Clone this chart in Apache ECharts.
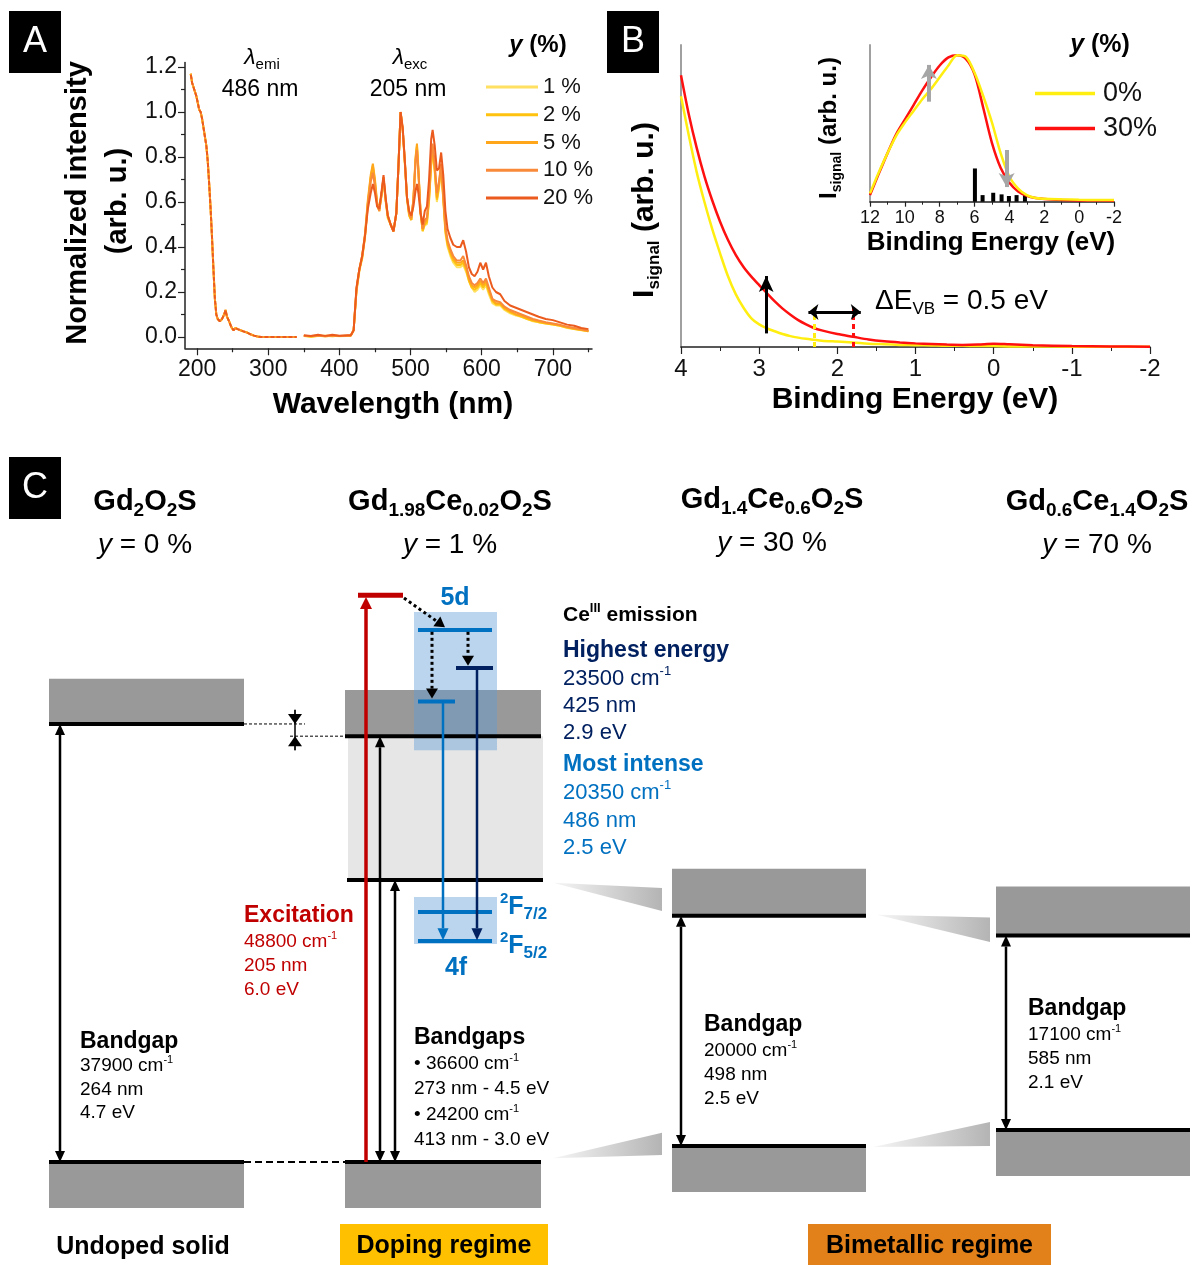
<!DOCTYPE html>
<html>
<head>
<meta charset="utf-8">
<script src="https://cdn.jsdelivr.net/npm/echarts@6/dist/echarts.min.js"></script>
<style>
  html, body { margin: 0; padding: 0; background: #fff; }
  #chart { width: 1194px; height: 1265px; }
</style>
</head>
<body>
<div id="chart"></div>
<script>
const FONT = "'Liberation Sans', Arial, Helvetica, sans-serif";

// ---------- Panel A: excitation (λemi 486 nm) and emission (λexc 205 nm) ----------
const EXC_WL = [191,193,195,197,199,201,203,205,207,209,211,213,215,217,219,221,223,225,227,229,
  232,235,238,240,242,245,248,251,254,257,261,265,270,275,280,285,290,300,310,320,330,340];
const EXC_INT = [1.17,1.13,1.11,1.09,1.07,1.04,1.01,1.0,0.97,0.93,0.89,0.85,0.78,0.68,0.57,0.44,0.30,0.17,0.10,0.08,
  0.07,0.08,0.10,0.12,0.09,0.07,0.045,0.03,0.04,0.035,0.03,0.025,0.02,0.012,0.006,0.002,0,0,0,0,0,0];

const EMI_WL = [350,360,370,380,390,400,410,416,420,424,428,432,436,440,444,447,450,453,456,459,462,465,468,472,476,480,
  483,486,489,492,495,498,501,504,507,509,511,514,517,520,523,526,529,531,534,537,540,543,546,549,552,556,560,565,570,
  574,578,582,586,590,594,598,602,606,610,615,620,626,632,640,648,656,664,672,680,690,700,710,720,730,740,750];
const EMI_1 = [0.004,0.0,0.006,0.002,0.005,0.003,0.004,0.006, 0.03,0.20,0.29,0.35,0.44,0.59,0.70,0.75,
  0.68,0.59,0.56,0.62,0.69,0.60,0.53,0.50,0.47,0.55, 0.76,1.0,0.92,0.77,0.61,0.54,0.52,0.60,0.78,0.84,
  0.74,0.55,0.47,0.50,0.50,0.60,0.76,0.82,0.73,0.60, 0.66,0.75,0.61,0.46,0.40,0.36,0.33,0.31,0.31,
  0.32,0.29,0.25,0.22,0.20,0.21,0.23,0.21,0.23,0.19, 0.15,0.14,0.14,0.12,0.105,0.095,0.09,0.08,0.07,0.065,
  0.06,0.055,0.05,0.04,0.035,0.03,0.025];
const EMI_2 = [0.005,0.002,0.004,0.006,0.003,0.005,0.004,0.007, 0.03,0.21,0.30,0.35,0.45,0.60,0.71,0.76,
  0.69,0.59,0.56,0.63,0.70,0.61,0.53,0.50,0.47,0.55, 0.76,1.0,0.92,0.77,0.62,0.54,0.52,0.61,0.79,0.85,
  0.74,0.55,0.47,0.50,0.51,0.61,0.77,0.83,0.74,0.61, 0.67,0.76,0.61,0.47,0.41,0.37,0.34,0.32,0.32,
  0.33,0.30,0.25,0.22,0.21,0.22,0.24,0.22,0.24,0.20, 0.16,0.145,0.145,0.125,0.11,0.10,0.09,0.08,0.072,0.066,
  0.06,0.056,0.05,0.042,0.036,0.031,0.026];
const EMI_5 = [0.006,0.003,0.005,0.004,0.007,0.004,0.006,0.006, 0.03,0.21,0.30,0.36,0.46,0.61,0.72,0.77,
  0.70,0.60,0.57,0.63,0.71,0.61,0.54,0.50,0.47,0.55, 0.76,1.0,0.92,0.78,0.62,0.55,0.52,0.61,0.80,0.86,
  0.75,0.56,0.48,0.51,0.52,0.62,0.78,0.84,0.75,0.62, 0.68,0.77,0.62,0.48,0.42,0.38,0.35,0.33,0.33,
  0.34,0.31,0.26,0.23,0.22,0.23,0.25,0.23,0.25,0.21, 0.165,0.15,0.15,0.13,0.115,0.10,0.095,0.085,0.075,0.07,
  0.063,0.058,0.052,0.044,0.038,0.032,0.027];
const EMI_10 = [0.005,0.004,0.007,0.003,0.006,0.005,0.005,0.007, 0.03,0.21,0.30,0.36,0.45,0.59,0.69,0.73,
  0.67,0.59,0.56,0.63,0.71,0.61,0.54,0.50,0.47,0.55, 0.76,1.0,0.92,0.78,0.62,0.55,0.53,0.61,0.78,0.83,
  0.73,0.56,0.48,0.52,0.53,0.64,0.80,0.86,0.77,0.64, 0.69,0.77,0.63,0.49,0.43,0.39,0.36,0.34,0.34,
  0.36,0.32,0.27,0.24,0.23,0.24,0.26,0.24,0.26,0.22, 0.17,0.16,0.155,0.135,0.12,0.11,0.10,0.09,0.08,0.073,
  0.066,0.06,0.054,0.046,0.04,0.034,0.028];
const EMI_20 = [0.008,0.004,0.01,0.005,0.01,0.006,0.008,0.008, 0.03,0.22,0.30,0.36,0.45,0.57,0.64,0.68,
  0.64,0.58,0.57,0.64,0.72,0.62,0.54,0.50,0.47,0.55, 0.76,1.0,0.93,0.78,0.62,0.56,0.54,0.58,0.65,0.68,
  0.64,0.55,0.50,0.56,0.58,0.70,0.88,0.92,0.85,0.74, 0.75,0.82,0.72,0.56,0.48,0.44,0.41,0.40,0.40,
  0.43,0.38,0.31,0.28,0.27,0.29,0.33,0.30,0.33,0.27, 0.22,0.20,0.19,0.16,0.14,0.13,0.12,0.11,0.10,0.09,
  0.08,0.075,0.065,0.055,0.05,0.04,0.035];
const CONC_LABELS = ['1 %', '2 %', '5 %', '10 %', '20 %'];
const A_X_TICKS = [200, 300, 400, 500, 600, 700];
const A_X_MINOR = [250, 350, 450, 550, 650, 750];
const A_Y_TICKS = [0, 0.2, 0.4, 0.6, 0.8, 1.0, 1.2];
const A_Y_MINOR = [0.1, 0.3, 0.5, 0.7, 0.9, 1.1];

// ---------- Panel B: valence band XPS ----------
const VB_BE = [4.0,3.9,3.8,3.7,3.6,3.5,3.4,3.3,3.2,3.1,3.0,2.9,2.8,2.7,2.6,2.5,2.4,2.3,2.2,2.0,1.8,1.6,1.4,1.2,1.0,
  0.8,0.6,0.4,0.2,0.0,-0.2,-0.5,-1.0,-1.5,-2.0];
const VB_0 = [0.83,0.70,0.58,0.48,0.39,0.31,0.235,0.175,0.13,0.095,0.075,0.062,0.052,0.043,0.036,0.031,0.027,0.024,0.021,
  0.018,0.015,0.011,0.009,0.007,0.006,0.005,0.004,0.004,0.003,0.003,0.002,0.002,0.001,0.001,0.001];
const VB_30 = [0.90,0.77,0.66,0.565,0.485,0.415,0.355,0.305,0.265,0.233,0.205,0.178,0.151,0.127,0.107,0.089,0.075,0.063,0.055,
  0.043,0.034,0.025,0.019,0.015,0.012,0.010,0.008,0.007,0.008,0.011,0.009,0.006,0.003,0.002,0.001];
const INSET_BE = [12,11.5,11,10.5,10,9.5,9,8.5,8,7.5,7,6.5,6,5.5,5,4.5,4,3.5,3,2.5,2,1,0,-1,-2];
const INSET_0 = [0.057,0.20,0.33,0.45,0.54,0.62,0.70,0.77,0.85,0.93,1.0,0.99,0.88,0.72,0.54,0.33,0.17,0.09,0.045,
  0.025,0.02,0.016,0.013,0.012,0.011];
const INSET_30 = [0.045,0.19,0.33,0.46,0.56,0.66,0.76,0.85,0.93,0.985,1.0,0.975,0.87,0.64,0.40,0.23,0.13,0.07,0.04,
  0.025,0.018,0.012,0.009,0.008,0.007];
const DOS_BE = [5.98, 5.54, 4.93, 4.45, 4.03, 3.59, 3.11];
const DOS_H = [0.227, 0.045, 0.061, 0.05, 0.039, 0.045, 0.052];
const B_LEGEND = ['0%', '30%'];

// ---------- Panel C: energy diagram (x: column position, y: energy in eV above Gd2O2S VB) ----------
const C_BANDS = [[49,244,4.66,5.14],[49,244,-0.49,0],[345,541,4.53,5.02],[345,541,-0.49,0],
  [672,866,2.62,3.12],[672,866,-0.32,0.17],[996,1190,2.41,2.93],[996,1190,-0.15,0.34]];
const C_DEFECT_BAND = [[348,543,3.0,4.53]];
const C_CE_BOXES = [[414,497,4.38,5.85],[414,497,2.32,2.82]];
const C_EDGES = [[49,244,4.66],[49,244,0],[345,541,4.53],[347,543,3.0],[345,541,0],
  [672,866,2.62],[672,866,0.17],[996,1190,2.41],[996,1190,0.34]];
const C_LEVELS_5D4F = [[418,492,5.66],[418,455,4.90],[418,492,2.66],[418,492,2.35]];
const C_LEVEL_NAVY = [[456,493,5.255]];
const C_LEVEL_EXC = [[358,403,6.03]];
const C_GAP_ARROWS = [[60,0,60,4.66,2],[380,0,380,4.53,2],[395,0,395,3.0,2],[681,0.17,681,2.62,2],[1006,0.34,1006,2.41,2]];
const C_EXC_ARROW = [[366,0,366,6.01,1]];
const C_EMI_BLUE = [[443,4.90,443,2.36,1]];
const C_EMI_NAVY = [[477,5.255,477,2.36,1]];
const C_RELAX = [[404,6.0,445,5.69,1],[432,5.64,432,4.93,1],[468,5.64,468,5.28,1]];
const C_OFFSET_HEADS = [[295,4.81,295,4.66,1],[295,4.38,295,4.53,1]];
const C_OFFSET_STEM = [[295,4.81,295,4.38,0]];
const C_GUIDE_VB = [[244,345,0]];
const C_GUIDE_CB = [[244,305,4.66],[290,345,4.53]];
const C_WEDGES = [[553,2.97,662,2.915,2.67],[553,0.04,662,0.31,0.075],[877,2.63,990,2.60,2.34],[873,0.16,990,0.425,0.17]];

// ---------- helpers ----------
const pairs = (xs, ys) => xs.map((x, i) => [x, ys[i]]);
const A_COLORS = ['#FFE060', '#FFC20E', '#FFA61A', '#F98A3A', '#EC5B1E'];
const EMI_ALL = [EMI_1, EMI_2, EMI_5, EMI_10, EMI_20];
const YELLOW = '#FFEE10', RED = '#FF1010';
const BLUE = '#0070C0', NAVY = '#002060', DARKRED = '#C00000';

function rectItem(fill) {
  return (params, api) => {
    const a = api.coord([api.value(0), api.value(3)]);
    const b = api.coord([api.value(1), api.value(2)]);
    return { type: 'rect', shape: { x: a[0], y: a[1], width: b[0] - a[0], height: b[1] - a[1] }, style: { fill } };
  };
}
function hlineItem(stroke, lineWidth, lineDash) {
  return (params, api) => {
    const a = api.coord([api.value(0), api.value(2)]);
    const b = api.coord([api.value(1), api.value(2)]);
    return { type: 'line', shape: { x1: a[0], y1: a[1], x2: b[0], y2: a[1] }, style: { stroke, lineWidth, lineDash: lineDash || null } };
  };
}
function arrowItem(color, lineWidth, lineDash, headLen, headHalf) {
  return (params, api) => {
    const p0 = api.coord([api.value(0), api.value(1)]);
    const p1 = api.coord([api.value(2), api.value(3)]);
    const heads = api.value(4);
    const dx = p1[0] - p0[0], dy = p1[1] - p0[1];
    const L = Math.hypot(dx, dy) || 1;
    const ux = dx / L, uy = dy / L, nx = -uy, ny = ux;
    const s = heads === 2 ? [p0[0] + ux * headLen, p0[1] + uy * headLen] : p0;
    const e = heads >= 1 ? [p1[0] - ux * headLen, p1[1] - uy * headLen] : p1;
    const head = (tip, dx2, dy2) => {
      const bx = tip[0] - dx2 * headLen, by = tip[1] - dy2 * headLen;
      return { type: 'polygon', shape: { points: [tip, [bx + nx * headHalf, by + ny * headHalf], [bx - nx * headHalf, by - ny * headHalf]] }, style: { fill: color } };
    };
    const children = [{ type: 'line', shape: { x1: s[0], y1: s[1], x2: e[0], y2: e[1] }, style: { stroke: color, lineWidth, lineDash: lineDash || null } }];
    if (heads >= 1) children.push(head(p1, ux, uy));
    if (heads === 2) children.push(head(p0, -ux, -uy));
    return { type: 'group', children };
  };
}
function wedgeItem(params, api) {
  const t = api.coord([api.value(0), api.value(1)]);
  const a = api.coord([api.value(2), api.value(3)]);
  const b = api.coord([api.value(2), api.value(4)]);
  return {
    type: 'polygon', shape: { points: [t, a, b] },
    style: { fill: new echarts.graphic.LinearGradient(0, 0, 1, 0, [{ offset: 0, color: '#F6F6F6' }, { offset: 1, color: '#B4B4B4' }]) }
  };
}
function cSeries(data, renderItem) {
  return { type: 'custom', xAxisIndex: 4, yAxisIndex: 4, data, renderItem, silent: true, animation: false };
}

function T(x, y, text, o) {
  o = o || {};
  return {
    type: 'text', x, y, rotation: o.rot || 0, z: 100,
    style: {
      text, fontFamily: FONT, fontSize: o.size || 19, fontWeight: o.bold ? 'bold' : 'normal',
      fontStyle: o.italic ? 'italic' : 'normal', fill: o.color || '#000',
      align: o.align || 'left', verticalAlign: 'middle', lineHeight: o.lh || Math.round((o.size || 19) * 1.25),
      rich: o.rich
    }
  };
}
const tok = (size, extra) => Object.assign({ fontSize: size, fontFamily: FONT }, extra || {});
const subTok = (size, extra) => tok(size, Object.assign({ lineHeight: size, verticalAlign: 'bottom' }, extra || {}));
const supTok = (size, extra) => tok(size, Object.assign({ lineHeight: size, verticalAlign: 'top' }, extra || {}));

const RICH_CHEM = { b: tok(29, { fontWeight: 'bold', lineHeight: 36 }), s: subTok(19, { fontWeight: 'bold' }) };
const RICH_Y = { i: tok(28, { fontStyle: 'italic', lineHeight: 34 }) };
function cm(size, color, bold) { return { u: supTok(Math.round(size * 0.6), { fill: color, fontWeight: bold ? 'bold' : 'normal' }) }; }

function letterBox(x, y, ch) {
  return [
    { type: 'rect', shape: { x, y, width: 52, height: 62 }, style: { fill: '#000' }, z: 90 },
    T(x + 26, y + 31, ch, { size: 36, color: '#fff', align: 'center' })
  ];
}
function tag(x, y, w, h, fill, text) {
  const els = [];
  if (fill) els.push({ type: 'rect', shape: { x, y, width: w, height: h }, style: { fill }, z: 90 });
  els.push(T(x + w / 2, y + h / 2 + 2, text, { size: 25, bold: true, align: 'center' }));
  return els;
}

const graphicEls = [].concat(
  letterBox(9, 11, 'A'), letterBox(607, 11, 'B'), letterBox(9, 457, 'C'),
  // Panel A texts
  [
    T(78, 203, 'Normalized intensity', { size: 29, bold: true, align: 'center', rot: Math.PI / 2 }),
    T(118, 201, '(arb. u.)', { size: 29, bold: true, align: 'center', rot: Math.PI / 2 }),
    T(393, 405, 'Wavelength (nm)', { size: 30, bold: true, align: 'center' }),
    T(262, 58, '{l|λ}{s|emi}', { size: 23, align: 'center', lh: 28, rich: { l: tok(23, { fontStyle: 'italic', lineHeight: 28 }), s: subTok(15) } }),
    T(260, 90, '486 nm', { size: 23, align: 'center' }),
    T(410, 58, '{l|λ}{s|exc}', { size: 23, align: 'center', lh: 28, rich: { l: tok(23, { fontStyle: 'italic', lineHeight: 28 }), s: subTok(15) } }),
    T(408, 90, '205 nm', { size: 23, align: 'center' }),
    T(538, 45, '{i|y} (%)', { size: 24, bold: true, align: 'center', rich: { i: tok(24, { fontStyle: 'italic', fontWeight: 'bold' }) } })
  ],
  // Panel B texts
  [
    T(645, 210, '{I|I}{s|signal}{I| (arb. u.)}', { size: 30, bold: true, align: 'center', lh: 36, rot: Math.PI / 2,
      rich: { I: tok(30, { fontWeight: 'bold', lineHeight: 36 }), s: subTok(17, { fontWeight: 'bold' }) } }),
    T(915, 400, 'Binding Energy (eV)', { size: 30, bold: true, align: 'center' }),
    T(875, 301, '{n|ΔE}{s|VB}{n| = 0.5 eV}', { size: 28, lh: 34, rich: { n: tok(28, { lineHeight: 34 }), s: subTok(17) } }),
    T(829, 128, '{I|I}{s|signal}{I| (arb. u.)}', { size: 24, bold: true, align: 'center', lh: 30, rot: Math.PI / 2,
      rich: { I: tok(24, { fontWeight: 'bold', lineHeight: 30 }), s: subTok(14, { fontWeight: 'bold' }) } }),
    T(991, 243, 'Binding Energy (eV)', { size: 26, bold: true, align: 'center' }),
    T(1100, 45, '{i|y} (%)', { size: 25, bold: true, align: 'center', rich: { i: tok(25, { fontStyle: 'italic', fontWeight: 'bold' }) } })
  ],
  // Panel C titles
  [
    T(145, 502, '{b|Gd}{s|2}{b|O}{s|2}{b|S}', { size: 29, bold: true, align: 'center', lh: 36, rich: RICH_CHEM }),
    T(450, 502, '{b|Gd}{s|1.98}{b|Ce}{s|0.02}{b|O}{s|2}{b|S}', { size: 29, bold: true, align: 'center', lh: 36, rich: RICH_CHEM }),
    T(772, 500, '{b|Gd}{s|1.4}{b|Ce}{s|0.6}{b|O}{s|2}{b|S}', { size: 29, bold: true, align: 'center', lh: 36, rich: RICH_CHEM }),
    T(1097, 502, '{b|Gd}{s|0.6}{b|Ce}{s|1.4}{b|O}{s|2}{b|S}', { size: 29, bold: true, align: 'center', lh: 36, rich: RICH_CHEM }),
    T(145, 545, '{i|y} = 0 %', { size: 28, align: 'center', lh: 34, rich: RICH_Y }),
    T(450, 545, '{i|y} = 1 %', { size: 28, align: 'center', lh: 34, rich: RICH_Y }),
    T(772, 543, '{i|y} = 30 %', { size: 28, align: 'center', lh: 34, rich: RICH_Y }),
    T(1097, 545, '{i|y} = 70 %', { size: 28, align: 'center', lh: 34, rich: RICH_Y })
  ],
  // Panel C annotations
  [
    T(455, 598, '5d', { size: 25, bold: true, color: BLUE, align: 'center' }),
    T(456, 968, '4f', { size: 25, bold: true, color: BLUE, align: 'center' }),
    T(500, 907, '{p|2}{F|F}{b|7/2}', { size: 25, bold: true, color: BLUE, lh: 32,
      rich: { p: supTok(15, { fontWeight: 'bold', fill: BLUE }), F: tok(25, { fontWeight: 'bold', fill: BLUE, lineHeight: 32 }), b: subTok(17, { fontWeight: 'bold', fill: BLUE }) } }),
    T(500, 946, '{p|2}{F|F}{b|5/2}', { size: 25, bold: true, color: BLUE, lh: 32,
      rich: { p: supTok(15, { fontWeight: 'bold', fill: BLUE }), F: tok(25, { fontWeight: 'bold', fill: BLUE, lineHeight: 32 }), b: subTok(17, { fontWeight: 'bold', fill: BLUE }) } }),
    T(563, 615, 'Ce{u|III} emission', { size: 21, bold: true, rich: cm(21, '#000', true) }),
    T(563, 651, 'Highest energy', { size: 23, bold: true, color: NAVY }),
    T(563, 679, '23500 cm{u|-1}', { size: 22, color: NAVY, rich: cm(22, NAVY) }),
    T(563, 706, '425 nm', { size: 22, color: NAVY }),
    T(563, 733, '2.9 eV', { size: 22, color: NAVY }),
    T(563, 765, 'Most intense', { size: 23, bold: true, color: BLUE }),
    T(563, 793, '20350 cm{u|-1}', { size: 22, color: BLUE, rich: cm(22, BLUE) }),
    T(563, 821, '486 nm', { size: 22, color: BLUE }),
    T(563, 848, '2.5 eV', { size: 22, color: BLUE }),
    T(244, 916, 'Excitation', { size: 23, bold: true, color: DARKRED }),
    T(244, 942, '48800 cm{u|-1}', { size: 19, color: DARKRED, rich: cm(19, DARKRED) }),
    T(244, 966, '205 nm', { size: 19, color: DARKRED }),
    T(244, 990, '6.0 eV', { size: 19, color: DARKRED }),
    T(80, 1042, 'Bandgap', { size: 23, bold: true }),
    T(80, 1066, '37900 cm{u|-1}', { size: 19, rich: cm(19, '#000') }),
    T(80, 1090, '264 nm', { size: 19 }),
    T(80, 1113, '4.7 eV', { size: 19 }),
    T(414, 1038, 'Bandgaps', { size: 23, bold: true }),
    T(414, 1064, '• 36600 cm{u|-1}', { size: 19, rich: cm(19, '#000') }),
    T(414, 1089, '273 nm - 4.5 eV', { size: 19 }),
    T(414, 1115, '• 24200 cm{u|-1}', { size: 19, rich: cm(19, '#000') }),
    T(414, 1140, '413 nm - 3.0 eV', { size: 19 }),
    T(704, 1025, 'Bandgap', { size: 23, bold: true }),
    T(704, 1051, '20000 cm{u|-1}', { size: 19, rich: cm(19, '#000') }),
    T(704, 1075, '498 nm', { size: 19 }),
    T(704, 1099, '2.5 eV', { size: 19 }),
    T(1028, 1009, 'Bandgap', { size: 23, bold: true }),
    T(1028, 1035, '17100 cm{u|-1}', { size: 19, rich: cm(19, '#000') }),
    T(1028, 1059, '585 nm', { size: 19 }),
    T(1028, 1083, '2.1 eV', { size: 19 })
  ],
  tag(40, 1225, 206, 40, null, 'Undoped solid'),
  tag(340, 1224, 208, 41, '#FFC000', 'Doping regime'),
  tag(808, 1224, 243, 41, '#E2801A', 'Bimetallic regime')
);

const axisBase = {
  type: 'value', splitLine: { show: false },
  axisLine: { onZero: false, lineStyle: { color: '#222', width: 1.5 } },
  axisTick: { lineStyle: { color: '#222', width: 1.2 } },
  axisLabel: { color: '#111', fontFamily: FONT }
};
const ax = (o) => echarts.util.merge(echarts.util.clone(axisBase), o, true);

const series = [];
// Panel A
CONC_LABELS.forEach((n, i) => {
  series.push({
    name: 'exc ' + n, type: 'line', xAxisIndex: 0, yAxisIndex: 0, data: pairs(EXC_WL, EXC_INT),
    symbol: 'none', silent: true, animation: false,
    lineStyle: { color: A_COLORS[i], width: 2, type: [4, 2], dashOffset: i * 1.2 }, itemStyle: { color: A_COLORS[i] }
  });
});
CONC_LABELS.forEach((n, i) => {
  series.push({
    name: n, type: 'line', xAxisIndex: 0, yAxisIndex: 0, data: pairs(EMI_WL, EMI_ALL[i]),
    symbol: 'none', silent: true, animation: false,
    lineStyle: { color: A_COLORS[i], width: 2 }, itemStyle: { color: A_COLORS[i] }
  });
});
// Panel B main
series.push({
  name: 'VB 0%', type: 'line', xAxisIndex: 2, yAxisIndex: 2, data: pairs(VB_BE, VB_0), smooth: 0.3,
  symbol: 'none', silent: true, animation: false, lineStyle: { color: YELLOW, width: 2.5 }
});
series.push({
  name: 'VB 30%', type: 'line', xAxisIndex: 2, yAxisIndex: 2, data: pairs(VB_BE, VB_30), smooth: 0.3,
  symbol: 'none', silent: true, animation: false, lineStyle: { color: RED, width: 2.5 },
  markLine: {
    silent: true, animation: false, symbol: ['none', 'none'], label: { show: false },
    data: [
      [{ coord: [2.91, 0.045], lineStyle: { color: '#000', width: 3, type: 'solid' } }, { coord: [2.91, 0.235], symbol: 'arrow', symbolSize: [11, 16] }],
      [{ coord: [2.3, 0], lineStyle: { color: YELLOW, width: 3, type: [5, 4] } }, { coord: [2.3, 0.13] }],
      [{ coord: [1.8, 0], lineStyle: { color: RED, width: 3, type: [5, 4] } }, { coord: [1.8, 0.13] }],
      [{ coord: [2.37, 0.116], symbol: 'arrow', symbolSize: [12, 10], lineStyle: { color: '#000', width: 3, type: 'solid' } },
       { coord: [1.7, 0.116], symbol: 'arrow', symbolSize: [12, 10] }]
    ]
  }
});
// Panel B inset
series.push({
  name: 'DOS', type: 'bar', xAxisIndex: 3, yAxisIndex: 3, data: pairs(DOS_BE, DOS_H), barWidth: 4,
  itemStyle: { color: '#000' }, silent: true, animation: false
});
series.push({
  name: B_LEGEND[1], type: 'line', xAxisIndex: 3, yAxisIndex: 3, data: pairs(INSET_BE, INSET_30), smooth: 0.3,
  symbol: 'none', silent: true, animation: false, lineStyle: { color: RED, width: 2.5 }, itemStyle: { color: RED },
  markLine: {
    silent: true, animation: false, symbol: ['none', 'none'], label: { show: false },
    data: [
      [{ coord: [8.62, 0.683], lineStyle: { color: '#A6A6A6', width: 4, type: 'solid' } }, { coord: [8.62, 0.934], symbol: 'arrow', symbolSize: [12, 14] }],
      [{ coord: [4.16, 0.353], lineStyle: { color: '#A6A6A6', width: 4, type: 'solid' } }, { coord: [4.16, 0.10], symbol: 'arrow', symbolSize: [12, 14] }]
    ]
  }
});
series.push({
  name: B_LEGEND[0], type: 'line', xAxisIndex: 3, yAxisIndex: 3, data: pairs(INSET_BE, INSET_0), smooth: 0.3,
  symbol: 'none', silent: true, animation: false, lineStyle: { color: YELLOW, width: 2.5 }, itemStyle: { color: YELLOW }
});
// Panel C
series.push(cSeries(C_BANDS, rectItem('#999999')));
series.push(cSeries(C_DEFECT_BAND, rectItem('#E6E6E6')));
series.push(cSeries(C_CE_BOXES, rectItem('rgba(91,155,213,0.42)')));
series.push(cSeries(C_WEDGES, wedgeItem));
series.push(cSeries(C_EDGES, hlineItem('#000', 4)));
series.push(cSeries(C_GUIDE_VB, hlineItem('#000', 2, [7, 4])));
series.push(cSeries(C_GUIDE_CB, hlineItem('#000', 1, [3, 2])));
series.push(cSeries(C_LEVEL_EXC, hlineItem(DARKRED, 5)));
series.push(cSeries(C_LEVELS_5D4F, hlineItem(BLUE, 4)));
series.push(cSeries(C_LEVEL_NAVY, hlineItem(NAVY, 4)));
series.push(cSeries(C_GAP_ARROWS, arrowItem('#000', 2.5, null, 11, 5)));
series.push(cSeries(C_EXC_ARROW, arrowItem(DARKRED, 3.5, null, 12, 6)));
series.push(cSeries(C_EMI_BLUE, arrowItem(BLUE, 2.5, null, 12, 5.5)));
series.push(cSeries(C_EMI_NAVY, arrowItem(NAVY, 2.5, null, 12, 5.5)));
series.push(cSeries(C_RELAX, arrowItem('#000', 3, [3, 3], 10, 6)));
series.push(cSeries(C_OFFSET_STEM, arrowItem('#000', 1.5, null, 0, 0)));
series.push(cSeries(C_OFFSET_HEADS, arrowItem('#000', 1, null, 10, 7)));

const option = {
  animation: false,
  backgroundColor: '#fff',
  textStyle: { fontFamily: FONT },
  grid: [
    { left: 185, top: 62.5, width: 407, height: 285.75 },
    { left: 681, top: 45, width: 469, height: 302 },
    { left: 870, top: 45, width: 244, height: 156.7 },
    { left: 0, top: 551, width: 1194, height: 705 }
  ],
  xAxis: [
    ax({ gridIndex: 0, min: 183, max: 755, axisTick: { customValues: A_X_TICKS, length: 7 },
      axisLabel: { customValues: A_X_TICKS, fontSize: 23, margin: 10 } }),
    ax({ gridIndex: 0, min: 183, max: 755, position: 'bottom', axisLine: { show: false },
      axisTick: { customValues: A_X_MINOR, length: 4 }, axisLabel: { show: false } }),
    ax({ gridIndex: 1, min: -2, max: 4, interval: 1, inverse: true, axisTick: { length: 7 },
      minorTick: { show: true, splitNumber: 2, length: 4, lineStyle: { color: '#222' } }, minorSplitLine: { show: false },
      axisLabel: { fontSize: 24, margin: 10 } }),
    ax({ gridIndex: 2, min: -2, max: 12, interval: 2, inverse: true, axisTick: { length: 5 },
      minorTick: { show: true, splitNumber: 2, length: 3, lineStyle: { color: '#222' } }, minorSplitLine: { show: false },
      axisLabel: { fontSize: 18, margin: 7 } }),
    { gridIndex: 3, type: 'value', min: 0, max: 1194, show: false }
  ],
  yAxis: [
    ax({ gridIndex: 0, min: -0.05, max: 1.22, axisTick: { customValues: A_Y_TICKS, length: 7 },
      axisLabel: { customValues: A_Y_TICKS, fontSize: 23, margin: 8, formatter: (v) => v.toFixed(1) } }),
    ax({ gridIndex: 0, min: -0.05, max: 1.22, position: 'left', axisLine: { show: false },
      axisTick: { customValues: A_Y_MINOR, length: 4 }, axisLabel: { show: false } }),
    ax({ gridIndex: 1, min: 0, max: 1, axisLine: { lineStyle: { color: '#A0A0A0', width: 2 } }, axisTick: { show: false }, axisLabel: { show: false } }),
    ax({ gridIndex: 2, min: 0, max: 1.07, axisLine: { lineStyle: { color: '#A0A0A0', width: 2 } }, axisTick: { show: false }, axisLabel: { show: false } }),
    { gridIndex: 3, type: 'value', min: -1, max: 6.5, show: false }
  ],
  legend: [
    { data: CONC_LABELS, orient: 'vertical', left: 486, top: 76, padding: 0, icon: 'rect', itemWidth: 52, itemHeight: 3, itemGap: 5.75,
      selectedMode: false, textStyle: { fontSize: 22, lineHeight: 22, color: '#111', fontFamily: FONT } },
    { data: B_LEGEND, orient: 'vertical', left: 1035, top: 80, padding: 0, icon: 'rect', itemWidth: 60, itemHeight: 3.5, itemGap: 8,
      selectedMode: false, textStyle: { fontSize: 27, lineHeight: 26, color: '#111', fontFamily: FONT, padding: [0, 0, 0, 3] } }
  ],
  graphic: { elements: graphicEls },
  series
};

const chart = echarts.init(document.getElementById('chart'), null, { renderer: 'canvas' });
chart.setOption(option);
</script>
</body>
</html>
